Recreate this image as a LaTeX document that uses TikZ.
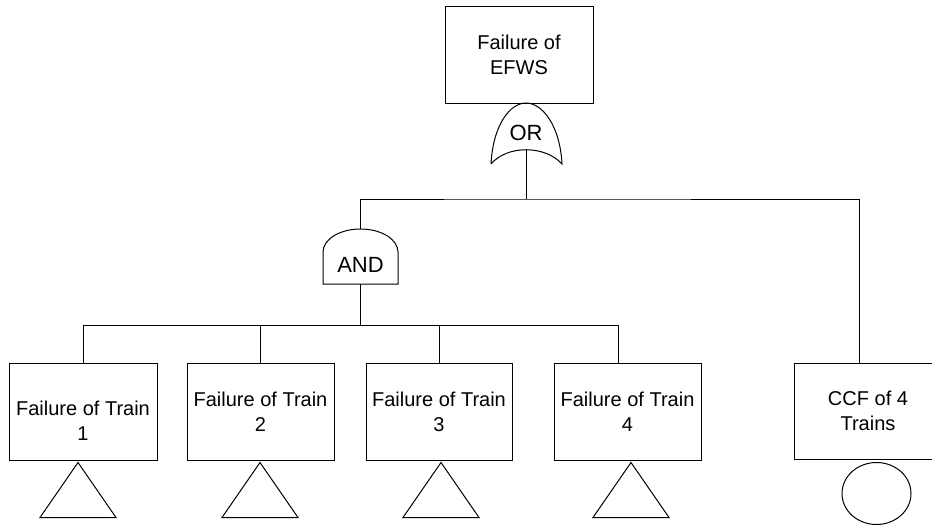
\documentclass[tikz,border=0pt]{standalone}
\usepackage{fontspec}
\setmainfont{Liberation Sans}
\begin{document}
\begin{tikzpicture}[x=1pt, y=1pt, line width=1pt,
    evbox/.style={draw, minimum width=147pt, minimum height=97pt, inner sep=0pt,
        align=center, font=\fontsize{20}{25}\selectfont},
    evtext/.style={align=center, inner sep=0pt, font=\fontsize{20}{25}\selectfont},
    gatetxt/.style={anchor=base, inner sep=0pt, font=\fontsize{22}{26}\selectfont}]
    % Frame
    \path[use as bounding box] (0,0) rectangle (932,-525);
    \clip (0,0) rectangle (932,-525);

    % Top event
    \node[evbox, minimum width=148pt] (efws) at (519,-54.5) {Failure of\\EFWS};

    % OR gate
    \coordinate (ortop) at (526,-103);
    \coordinate (orout) at (526,-149);
    \draw (491,-164) .. controls (493,-125) and (510,-103) .. (ortop)
        .. controls (542,-103) and (560,-125) .. (562,-164)
        .. controls (545,-145) and (507,-145) .. (491,-164);
    \node[gatetxt] (ortxt) at (526,-140) {OR};

    % AND gate
    \coordinate (andtop) at (360.5,-229);
    \coordinate (andout) at (360.5,-284);
    \draw (323,-284) -- (323,-252) arc[start angle=180, end angle=0, x radius=37.5, y radius=23]
        -- (398,-284) -- cycle;
    \node[gatetxt] (andtxt) at (360.5,-272) {AND};

    % Basic events
    \node[evbox, minimum width=148pt] (t1) at (83,-411.5) {};
    \node[evtext] (t1txt) at ([yshift=-9.5pt]t1.center) {Failure of Train\\1};
    \node[evbox] (t2) at (260.5,-411.5) {Failure of Train\\2};
    \node[evbox, minimum width=146pt] (t3) at (439,-411.5) {Failure of Train\\3};
    \node[evbox] (t4) at (627.5,-411.5) {Failure of Train\\4};
    \node[evbox, minimum width=148pt, minimum height=96pt] (ccf) at (868,-411) {CCF of 4\\Trains};

    % Connectors
    \coordinate (orbus) at (526,-199);
    \coordinate (trbus) at (360.5,-325);
    \coordinate (ccfin) at ([xshift=-9pt]ccf.north);
    \coordinate (t4in) at ([xshift=-9.5pt]t4.north);
    \draw (orout) -- (orbus);
    \draw (andtop) |- (orbus) -| (ccfin);
    \draw (andout) -- (trbus);
    \foreach \b in {t1.north, t2.north, t3.north, t4in}
        \draw (\b) |- (trbus);

    % Transfer triangles
    \foreach \b/\dx in {t1/-5, t2/-0.5, t3/2, t4/3.5}
        \draw ([xshift=\dx pt, yshift=-2pt]\b.south) -- ++(38,-55) -- ++(-76,0) -- cycle;

    % Basic event circle
    \draw ([xshift=8.5pt, yshift=-34pt]ccf.south) ellipse[x radius=34.5, y radius=31];
\end{tikzpicture}
\end{document}
